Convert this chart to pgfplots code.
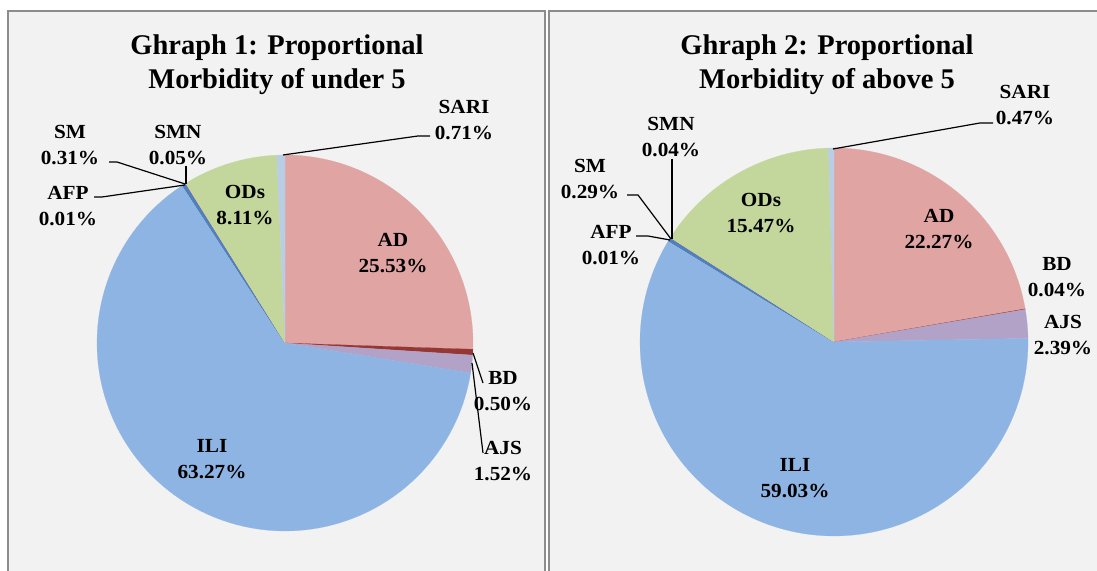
\documentclass[border=0pt]{standalone}
\usepackage{fontspec}
\setmainfont{Liberation Serif}
\newfontfamily\labfont{Liberation Serif}[FakeStretch=1.06]
\usepackage{pgfplots}
\pgfplotsset{compat=1.18}
\definecolor{panel}{RGB}{242,242,242}
\definecolor{border}{RGB}{140,140,140}
\definecolor{cAD}{RGB}{224,164,163}
\definecolor{cBD}{RGB}{149,55,53}
\definecolor{cAJS}{RGB}{179,162,199}
\definecolor{cILI}{RGB}{142,180,227}
\definecolor{cAFP}{RGB}{55,96,146}
\definecolor{cSM}{RGB}{79,129,189}
\definecolor{cSMN}{RGB}{250,192,144}
\definecolor{cODs}{RGB}{195,214,155}
\definecolor{cSARI}{RGB}{185,205,229}
% one pie slice: #1 = share in percent, #2 = colour; slices run clockwise from 12 o'clock
\newcommand\slice[2]{%
  \pgfmathsetmacro\sa{90-3.6*(\cum+#1)}%
  \pgfmathsetmacro\sb{90-3.6*\cum}%
  \pgfmathsetmacro\cumnew{\cum+#1}%
  \global\let\cum\cumnew
  \edef\doslice{\noexpand\addplot[fill=#2, draw=#2, line width=0.2bp, domain=\sa:\sb, samples=120, variable=\noexpand\t] ({cos(\noexpand\t)},{sin(\noexpand\t)}) -- (axis cs:0,0) -- cycle;}%
  \doslice
}
\begin{document}
\begin{tikzpicture}[x=1bp,y=1bp,
  lab/.style={align=center, font=\labfont\bfseries\fontsize{20bp}{26bp}\selectfont, inner sep=0pt},
  ttl/.style={align=center, font=\bfseries\fontsize{28.5bp}{34bp}\selectfont, inner sep=0pt},
  lead/.style={black, line width=1.2bp}]
\useasboundingbox (0,0) rectangle (1097,571);
\begin{scope}[yshift=571bp, y=-1bp]
  \fill[white] (0,0) rectangle (1097,571);
  \filldraw[fill=panel, draw=border, line width=1.5bp] (8,11) rectangle (545,600);
  \filldraw[fill=panel, draw=border, line width=1.5bp] (549,11) rectangle (1120,600);
\end{scope}

% Graph 1: under 5
\gdef\cum{0}
\begin{axis}[at={(285bp,228bp)}, anchor=center, x=188bp, y=188bp,
  xmin=-1.05, xmax=1.05, ymin=-1.05, ymax=1.05, hide axis, clip=false]
  \slice{25.53}{cAD}
  \slice{0.50}{cBD}
  \slice{1.52}{cAJS}
  \slice{63.27}{cILI}
  \slice{0.01}{cAFP}
  \slice{0.31}{cSM}
  \slice{0.05}{cSMN}
  \slice{8.11}{cODs}
  \slice{0.71}{cSARI}
\end{axis}

% Graph 2: above 5
\gdef\cum{0}
\begin{axis}[at={(834bp,229bp)}, anchor=center, x=194bp, y=194bp,
  xmin=-1.05, xmax=1.05, ymin=-1.05, ymax=1.05, hide axis, clip=false]
  \slice{22.27}{cAD}
  \slice{0.04}{cBD}
  \slice{2.39}{cAJS}
  \slice{59.03}{cILI}
  \slice{0.01}{cAFP}
  \slice{0.29}{cSM}
  \slice{0.04}{cSMN}
  \slice{15.47}{cODs}
  \slice{0.47}{cSARI}
\end{axis}

\begin{scope}[yshift=571bp, y=-1bp]
  % titles
  \node[ttl] at (277,65) {Ghraph 1: Proportional\\Morbidity of under 5};
  \node[ttl] at (827,65) {Ghraph 2: Proportional\\Morbidity of above 5};
  % graph 1 labels
  \node[lab] at (464,120) {SARI\\0.71\%};
  \node[lab] at (70,145) {SM\\0.31\%};
  \node[lab] at (178,145) {SMN\\0.05\%};
  \node[lab] at (68,206) {AFP\\0.01\%};
  \node[lab] at (245,205) {ODs\\8.11\%};
  \node[lab] at (393,253) {AD\\25.53\%};
  \node[lab] at (212,459) {ILI\\63.27\%};
  \node[lab] at (503,391) {BD\\0.50\%};
  \node[lab] at (503,461) {AJS\\1.52\%};
  \draw[lead] (430,136) -- (418,136) -- (283,155);
  \draw[lead] (109,162) -- (117,162) -- (185,184);
  \draw[lead] (186,166) -- (186,184);
  \draw[lead] (94,197) -- (102,197) -- (185,185);
  \draw[lead] (483,383) -- (473,353);
  \draw[lead] (483,453) -- (472,363);
  % graph 2 labels
  \node[lab] at (1025,105) {SARI\\0.47\%};
  \node[lab] at (671,137) {SMN\\0.04\%};
  \node[lab] at (590,179) {SM\\0.29\%};
  \node[lab] at (611,245) {AFP\\0.01\%};
  \node[lab] at (761,213) {ODs\\15.47\%};
  \node[lab] at (939,229) {AD\\22.27\%};
  \node[lab] at (795,478) {ILI\\59.03\%};
  \node[lab] at (1057,277) {BD\\0.04\%};
  \node[lab] at (1063,335) {AJS\\2.39\%};
  \draw[lead] (993,123) -- (980,123) -- (833,149);
  \draw[lead] (672,159) -- (672,239);
  \draw[lead] (627,195) -- (638,195) -- (671,239);
  \draw[lead] (636,236) -- (648,236) -- (670,240);
\end{scope}
\end{tikzpicture}
\end{document}
